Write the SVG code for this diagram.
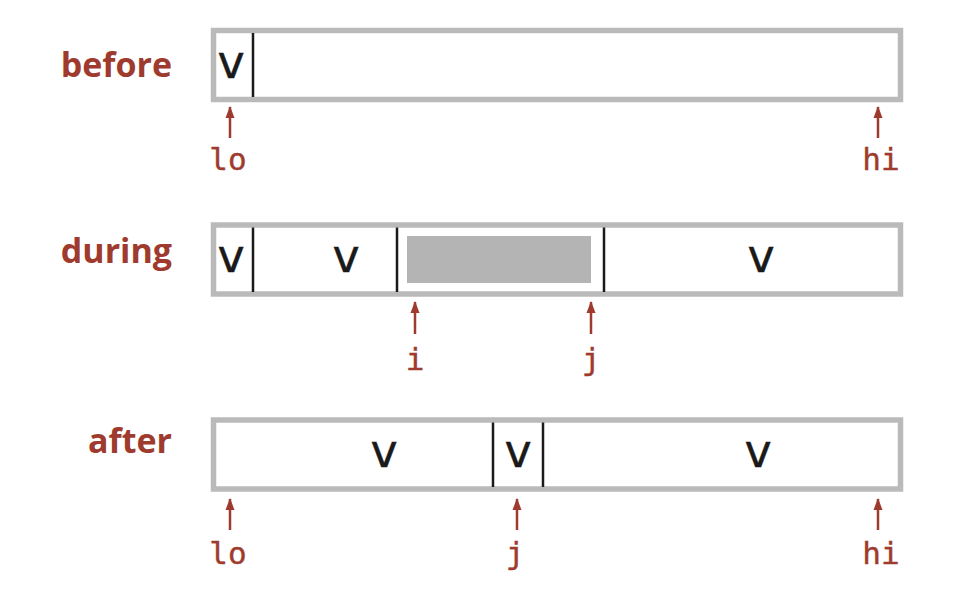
<svg xmlns="http://www.w3.org/2000/svg" width="974" height="614" viewBox="0 0 974 614">
<style>
.box{fill:#ffffff;stroke:#bababa;stroke-width:5.5}
.div{stroke:#1a1a1a;stroke-width:2.5}
.v{font-family:"DejaVu Sans",sans-serif;font-size:46px;fill:#1a1a1a;stroke:#1a1a1a;stroke-width:0.4;text-anchor:middle}
.ttl{font-family:"Open Sans","Liberation Sans",sans-serif;font-weight:700;font-size:34px;fill:#9e3b2e;text-anchor:end}
.idx{font-family:"DejaVu Sans Mono",monospace;font-size:31px;fill:#9e3b2e;stroke:#9e3b2e;stroke-width:0.4;text-anchor:middle}
.arr{stroke:#9e3b2e;stroke-width:2.5;fill:none}
</style>
<defs>
<marker id="ah" markerUnits="userSpaceOnUse" markerWidth="12" markerHeight="12" viewBox="0 0 12 12" refX="11" refY="6" orient="auto">
<path d="M0,1.5 L12,6 L0,10.5 Z" fill="#9e3b2e"/>
</marker>
</defs>
<g id="before">
<text class="ttl" x="172" y="77">before</text>
<rect class="box" x="213.5" y="30.5" width="687" height="69"/>
<line class="div" x1="253" y1="33" x2="253" y2="97"/>
<text class="v" x="231" y="77.5">v</text>
</g>
<g id="during">
<text class="ttl" x="172" y="263">during</text>
<rect class="box" x="213.5" y="225" width="687" height="69"/>
<rect x="407" y="236" width="184" height="47" fill="#b4b4b4"/>
<line class="div" x1="253" y1="227.5" x2="253" y2="292"/>
<line class="div" x1="397" y1="227.5" x2="397" y2="292"/>
<line class="div" x1="604" y1="227.5" x2="604" y2="292"/>
<text class="v" x="231" y="272">v</text>
<text class="v" x="346" y="272">v</text>
<text class="v" x="761" y="272">v</text>
</g>
<g id="after">
<text class="ttl" x="172" y="453">after</text>
<rect class="box" x="213.5" y="420" width="687" height="69"/>
<line class="div" x1="493" y1="422.5" x2="493" y2="487"/>
<line class="div" x1="543" y1="422.5" x2="543" y2="487"/>
<text class="v" x="384" y="467">v</text>
<text class="v" x="518" y="467">v</text>
<text class="v" x="758" y="467">v</text>
</g>
<g id="connectors">
<line class="arr" x1="230" y1="138" x2="230" y2="107" marker-end="url(#ah)"/>
<line class="arr" x1="878" y1="138" x2="878" y2="107" marker-end="url(#ah)"/>
<line class="arr" x1="415" y1="334" x2="415" y2="302" marker-end="url(#ah)"/>
<line class="arr" x1="591" y1="334" x2="591" y2="302" marker-end="url(#ah)"/>
<line class="arr" x1="230" y1="530" x2="230" y2="499" marker-end="url(#ah)"/>
<line class="arr" x1="517" y1="530" x2="517" y2="499" marker-end="url(#ah)"/>
<line class="arr" x1="878" y1="530" x2="878" y2="499" marker-end="url(#ah)"/>
</g>
<g id="labels">
<text class="idx" x="228" y="170">lo</text>
<text class="idx" x="881" y="170">hi</text>
<text class="idx" x="415" y="370">i</text>
<text class="idx" x="591" y="370">j</text>
<text class="idx" x="228" y="564">lo</text>
<text class="idx" x="515" y="564">j</text>
<text class="idx" x="881" y="564">hi</text>
</g>
</svg>
